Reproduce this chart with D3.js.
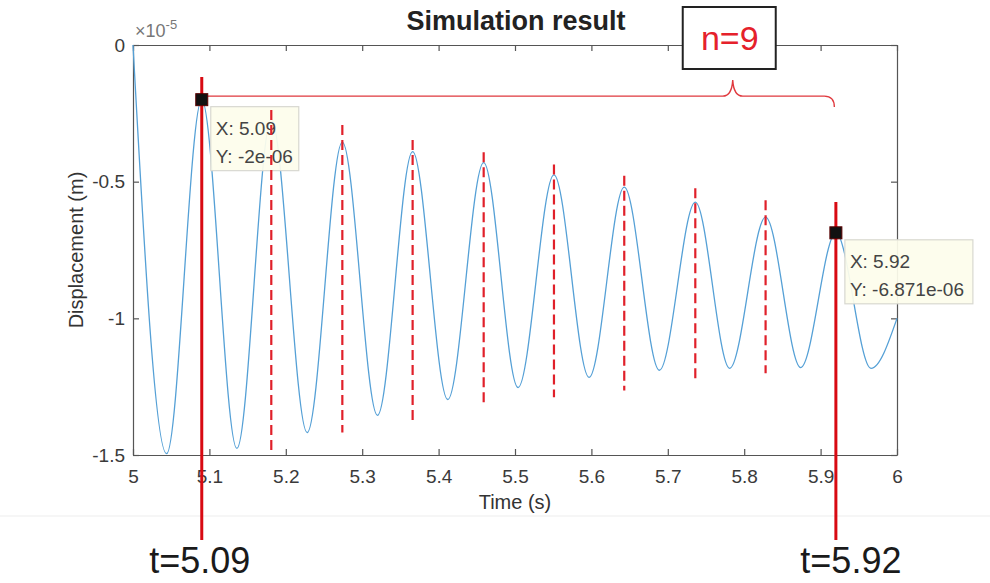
<!DOCTYPE html>
<html><head><meta charset="utf-8">
<script src="https://cdn.jsdelivr.net/npm/d3@7"></script>
<style>
body{margin:0;background:#fff}
svg{display:block}
text{font-family:"Liberation Sans",Arial,Helvetica,sans-serif}
</style>
</head><body>
<svg id="c" width="990" height="583"></svg>
<script>
// ---------- data ----------
const chartTitle = "Simulation result";
const xLabel = "Time (s)";
const yLabel = "Displacement (m)";
const xTicks = [5, 5.1, 5.2, 5.3, 5.4, 5.5, 5.6, 5.7, 5.8, 5.9, 6];
const xTickLabels = ["5", "5.1", "5.2", "5.3", "5.4", "5.5", "5.6", "5.7", "5.8", "5.9", "6"];
const yTicks = [0, -0.5, -1, -1.5];
const yTickLabels = ["0", "-0.5", "-1", "-1.5"];
const yExponent = "-5";

// displacement curve (units of 1e-5 m): read extrema
const curveTime = [5.000, 5.044, 5.090, 5.136, 5.181, 5.228, 5.274, 5.320, 5.366, 5.412, 5.459, 5.504,
                   5.551, 5.597, 5.643, 5.689, 5.736, 5.781, 5.828, 5.874, 5.920, 5.966, 6.000];
const curveDisp = [0.000, -1.495, -0.200, -1.476, -0.270, -1.418, -0.355, -1.355, -0.390, -1.297, -0.430, -1.253,
                   -0.475, -1.216, -0.520, -1.190, -0.575, -1.183, -0.630, -1.180, -0.687, -1.183, -1.000];

// dashed peak markers
const peakTimes  = [5.181, 5.274, 5.366, 5.459, 5.551, 5.643, 5.736, 5.828];
const peakTop    = [-0.238, -0.293, -0.348, -0.392, -0.437, -0.478, -0.524, -0.568];
const peakBottom = [-1.483, -1.418, -1.374, -1.319, -1.289, -1.264, -1.234, -1.201];

// data tips
const tipTimes  = [5.09, 5.92];
const tipValues = [-0.2, -0.6871];
const tipTextX  = ["X: 5.09", "X: 5.92"];
const tipTextY  = ["Y: -2e-06", "Y: -6.871e-06"];
const tipLineTop = [-0.117, -0.574];
const bottomLabels = ["t=5.09", "t=5.92"];

// brace
const braceStart = 5.097, braceMid = 5.785, braceEnd = 5.918, braceLevel = -0.187;
const nLabel = "n=9";

// ---------- drawing ----------
const svg = d3.select("#c");
const W = 990, H = 583;
const x = d3.scaleLinear().domain([5, 6]).range([133, 897]);
const y = d3.scaleLinear().domain([0, -1.5]).range([45, 455]);

const axisColor = "#555";
const tickColor = "#3a3a3a";

// faint screenshot edge
svg.append("line").attr("x1", 0).attr("x2", W).attr("y1", 516).attr("y2", 516)
  .attr("stroke", "#ededed").attr("stroke-width", 1);

function styleAxis(g) {
  g.select(".domain").attr("stroke", axisColor).attr("stroke-width", 1.2);
  g.selectAll(".tick line").attr("stroke", axisColor).attr("stroke-width", 1.2);
  g.selectAll(".tick text").attr("fill", tickColor).style("font-size", "19px")
    .style("font-family", '"Liberation Sans", Arial, sans-serif');
}

const gx = svg.append("g").attr("transform", `translate(0,${y(-1.5)})`)
  .call(d3.axisBottom(x).tickValues(xTicks).tickFormat((d, i) => xTickLabels[i])
    .tickSizeInner(-6).tickSizeOuter(0).tickPadding(15));
styleAxis(gx);

const gxt = svg.append("g").attr("transform", `translate(0,${y(0)})`)
  .call(d3.axisTop(x).tickValues(xTicks).tickFormat("").tickSizeInner(-6).tickSizeOuter(0));
styleAxis(gxt);

const gy = svg.append("g").attr("transform", `translate(${x(5)},0)`)
  .call(d3.axisLeft(y).tickValues(yTicks).tickFormat((d, i) => yTickLabels[i])
    .tickSizeInner(-6).tickSizeOuter(0).tickPadding(8));
styleAxis(gy);

const gyr = svg.append("g").attr("transform", `translate(${x(6)},0)`)
  .call(d3.axisRight(y).tickValues(yTicks).tickFormat("").tickSizeInner(-6).tickSizeOuter(0));
styleAxis(gyr);

// exponent label
const ex = svg.append("text").attr("x", x(5) + 2).attr("y", y(0) - 8)
  .attr("fill", "#777").style("font-size", "18px");
ex.append("tspan").text("\u00d710");
ex.append("tspan").attr("dy", -8).style("font-size", "13px").text(yExponent);

// curve
const pts = curveTime.map((t, i) => [t, curveDisp[i]]);
svg.append("path").datum(pts)
  .attr("d", d3.line().x(d => x(d[0])).y(d => y(d[1])).curve(d3.curveMonotoneX))
  .attr("fill", "none").attr("stroke", "#55a0d6").attr("stroke-width", 1.3);

// solid red lines at data tips
const tipLineBottomPx = 540;
svg.selectAll("line.solid").data(tipTimes).enter().append("line")
  .attr("x1", d => x(d)).attr("x2", d => x(d))
  .attr("y1", (d, i) => y(tipLineTop[i])).attr("y2", tipLineBottomPx)
  .attr("stroke", "#d80a12").attr("stroke-width", 3);

// brace
const bp = d3.path();
const by = y(braceLevel), bx0 = x(braceStart), bxm = x(braceMid), bx1 = x(braceEnd);
bp.moveTo(bx0, by);
bp.lineTo(bxm - 10, by);
bp.quadraticCurveTo(bxm - 1, by, bxm, by - 16);
bp.quadraticCurveTo(bxm + 1, by, bxm + 10, by);
bp.lineTo(bx1 - 10, by);
bp.quadraticCurveTo(bx1, by, bx1, by + 11);
svg.append("path").attr("d", bp.toString()).attr("fill", "none")
  .attr("stroke", "#e0393e").attr("stroke-width", 1.4);

// data tips
tipTimes.forEach((t, i) => {
  const px = x(t), py = y(tipValues[i]);
  const w = i === 0 ? 88 : 128;
  const g = svg.append("g");
  g.append("rect").attr("x", px + 9).attr("y", py + 7).attr("width", w).attr("height", 64)
    .attr("fill", "#fdfdec").attr("fill-opacity", 0.93).attr("stroke", "#d8d8d0").attr("stroke-width", 1.2);
  g.append("text").attr("x", px + 14).attr("y", py + 35).attr("fill", "#444")
    .style("font-size", "19px").text(tipTextX[i]);
  g.append("text").attr("x", px + 14).attr("y", py + 63).attr("fill", "#444")
    .style("font-size", "19px").text(tipTextY[i]);
});

// dashed red peak lines
svg.selectAll("line.dash").data(peakTimes).enter().append("line")
  .attr("x1", d => x(d)).attr("x2", d => x(d))
  .attr("y1", (d, i) => y(peakTop[i])).attr("y2", (d, i) => y(peakBottom[i]))
  .attr("stroke", "#e0202a").attr("stroke-width", 2.2).attr("stroke-dasharray", "10,5");

// markers
svg.selectAll("rect.mk").data(tipTimes).enter().append("rect")
  .attr("x", d => x(d) - 6).attr("y", (d, i) => y(tipValues[i]) - 6)
  .attr("width", 12).attr("height", 12).attr("fill", "#111")
  .attr("stroke", "#5a0000").attr("stroke-width", 1);

// n=9 box
const nbx = x(braceMid);
svg.append("rect").attr("x", nbx - 50).attr("y", 7).attr("width", 93).attr("height", 62)
  .attr("fill", "#fff").attr("stroke", "#222").attr("stroke-width", 2);
svg.append("text").attr("x", nbx - 3).attr("y", 50).attr("text-anchor", "middle")
  .attr("fill", "#e5212b").style("font-size", "34px").text(nLabel);

// title and axis labels
svg.append("text").attr("x", 516).attr("y", 30).attr("text-anchor", "middle")
  .attr("fill", "#222").style("font-size", "27px").style("font-weight", "bold").text(chartTitle);
svg.append("text").attr("x", 515).attr("y", 509).attr("text-anchor", "middle")
  .attr("fill", "#333").style("font-size", "20px").text(xLabel);
svg.append("text").attr("transform", `translate(83,${(y(0) + y(-1.5)) / 2}) rotate(-90)`)
  .attr("text-anchor", "middle").attr("fill", "#333").style("font-size", "20px").text(yLabel);

// bottom labels
svg.selectAll("text.bl").data(tipTimes).enter().append("text")
  .attr("x", (d, i) => x(d) + (i === 0 ? -2 : 15)).attr("y", 573).attr("text-anchor", "middle")
  .attr("fill", "#1a1a1a").style("font-size", "36px").text((d, i) => bottomLabels[i]);
</script>
</body></html>
